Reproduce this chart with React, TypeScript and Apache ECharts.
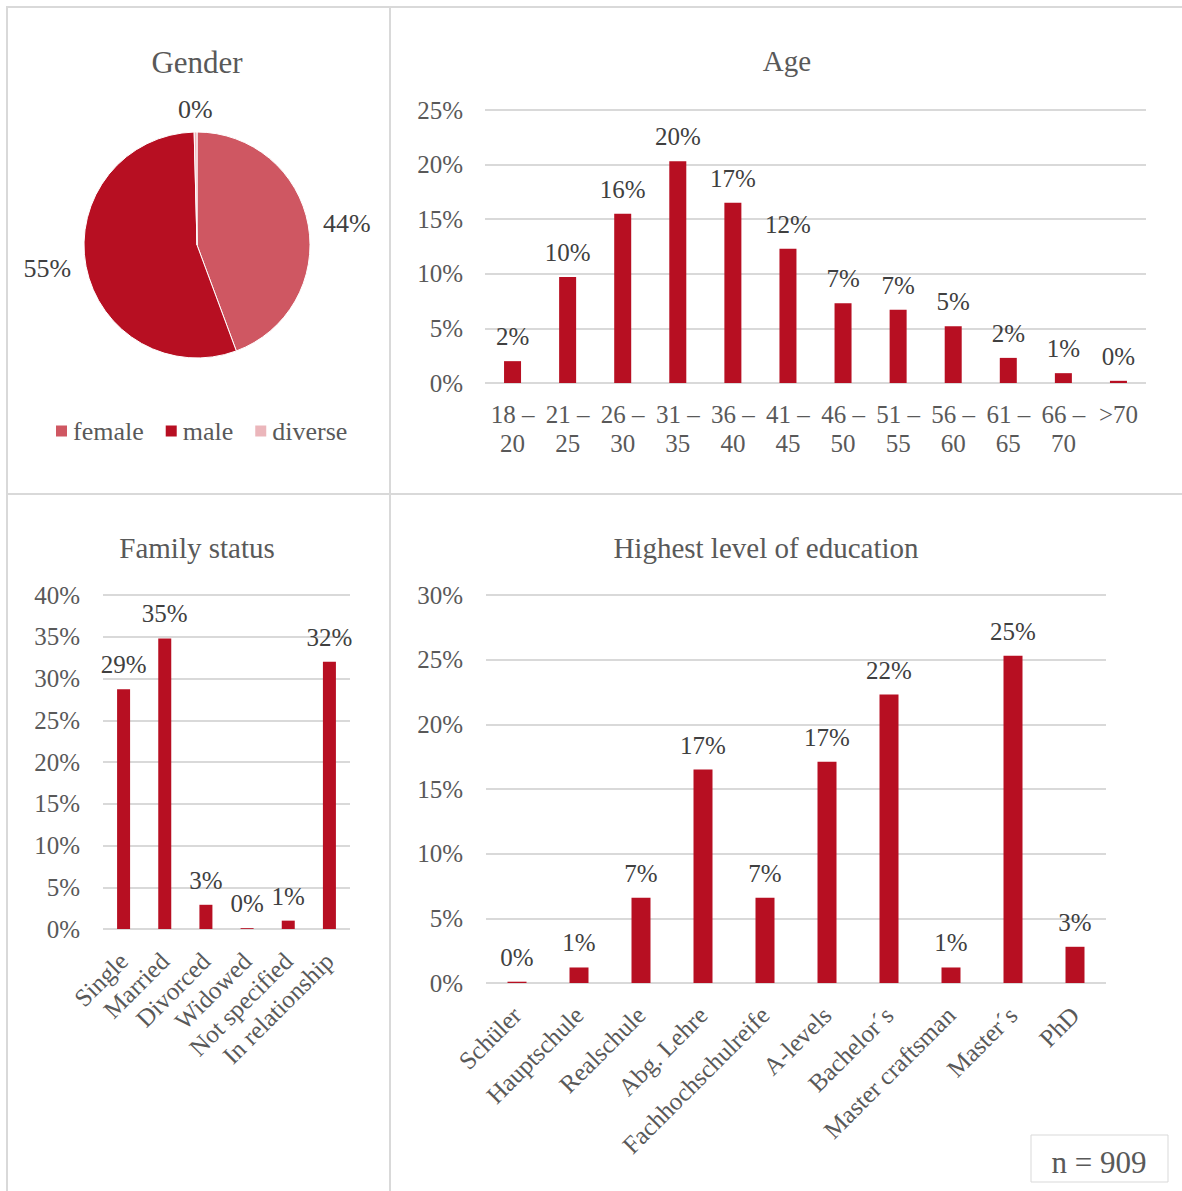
import React, { useEffect, useRef } from "react";
import * as echarts from "echarts";

const FONT = "'Liberation Serif', 'Times New Roman', serif";
const AXIS_COLOR = "#595959";
const LABEL_COLOR = "#404040";
const GRID_COLOR = "#D9D9D9";
const BAR_COLOR = "#B70F22";

const genderNames = ["female", "male", "diverse"];
const genderValues = [44.3, 55.2, 0.4];
const genderColors = ["#CF5762", "#B70F22", "#EBB6BB"];

const ageCategories = ["18 – 20", "21 – 25", "26 – 30", "31 – 35", "36 – 40", "41 – 45", "46 – 50", "51 – 55", "56 – 60", "61 – 65", "66 – 70", ">70"];
const ageValues = [2.0, 9.7, 15.5, 20.3, 16.5, 12.3, 7.3, 6.7, 5.2, 2.3, 0.9, 0.2];

const familyCategories = ["Single", "Married", "Divorced", "Widowed", "Not specified", "In relationship"];
const familyValues = [28.7, 34.8, 2.9, 0.1, 1.0, 32.0];

const eduCategories = ["Schüler", "Hauptschule", "Realschule", "Abg. Lehre", "Fachhochschulreife", "A-levels", "Bachelor´s", "Master craftsman", "Master´s", "PhD"];
const eduValues = [0.1, 1.2, 6.6, 16.5, 6.6, 17.1, 22.3, 1.2, 25.3, 2.8];

const sampleSize = 909;

const pct = (v: number) => Math.round(v) + "%";

export default function App() {
  const ref = useRef<HTMLDivElement>(null);
  useEffect(() => {
    if (!ref.current) return;
    const chart = echarts.init(ref.current, null, { renderer: "svg" });
    const axisLabel = { color: AXIS_COLOR, fontFamily: FONT, fontSize: 25 };
    const yAxisBase = (max: number, margin: number, gridIndex: number) => ({
      type: "value",
      gridIndex,
      min: 0,
      max,
      interval: 5,
      axisLine: { show: false },
      axisTick: { show: false },
      splitLine: { lineStyle: { color: GRID_COLOR, width: 2 } },
      axisLabel: { ...axisLabel, margin, formatter: "{value}%" },
    });
    const barLabel = {
      show: true,
      position: "top",
      distance: 12,
      color: LABEL_COLOR,
      fontFamily: FONT,
      fontSize: 25,
      formatter: (p: any) => pct(p.value),
    };
    const titleStyle = (size: number) => ({ color: AXIS_COLOR, fontFamily: FONT, fontSize: size, fontWeight: "normal" });

    chart.setOption({
      animation: false,
      backgroundColor: "#ffffff",
      title: [
        { text: "Gender", left: 192, top: 42, textAlign: "center", textStyle: titleStyle(31) },
        { text: "Age", left: 782, top: 41, textAlign: "center", textStyle: titleStyle(29) },
        { text: "Family status", left: 192, top: 528, textAlign: "center", textStyle: titleStyle(29) },
        { text: "Highest level of education", left: 761, top: 528, textAlign: "center", textStyle: titleStyle(29) },
      ],
      legend: {
        data: genderNames,
        left: 49,
        top: 413,
        icon: "rect",
        itemWidth: 13,
        itemHeight: 13,
        itemGap: 20,
        textStyle: { color: AXIS_COLOR, fontFamily: FONT, fontSize: 26 },
      },
      grid: [
        { left: 485, top: 110, width: 661, height: 273 },
        { left: 103, top: 595, width: 247, height: 334 },
        { left: 486, top: 595, width: 620, height: 388 },
      ],
      xAxis: [
        {
          type: "category",
          gridIndex: 0,
          data: ageCategories,
          axisLine: { show: false },
          axisTick: { show: false },
          axisLabel: {
            ...axisLabel,
            margin: 17,
            lineHeight: 29,
            interval: 0,
            formatter: (v: string) => v.replace(" – ", " –\n"),
          },
        },
        {
          type: "category",
          gridIndex: 1,
          data: familyCategories,
          axisLine: { show: false },
          axisTick: { show: false },
          axisLabel: { ...axisLabel, margin: 28, interval: 0, rotate: 45 },
        },
        {
          type: "category",
          gridIndex: 2,
          data: eduCategories,
          axisLine: { show: false },
          axisTick: { show: false },
          axisLabel: { ...axisLabel, margin: 28, interval: 0, rotate: 45 },
        },
      ],
      yAxis: [yAxisBase(25, 22, 0), yAxisBase(40, 23, 1), yAxisBase(30, 23, 2)],
      series: [
        {
          type: "pie",
          center: [197, 245],
          radius: 113,
          startAngle: 90,
          clockwise: true,
          data: genderNames.map((n, i) => ({ name: n, value: genderValues[i], itemStyle: { color: genderColors[i] } })),
          itemStyle: { borderColor: "#ffffff", borderWidth: 1 },
          label: {
            show: true,
            position: "outside",
            color: LABEL_COLOR,
            fontFamily: FONT,
            fontSize: 26,
            distanceToLabelLine: 5,
            formatter: (p: any) => pct(p.value),
          },
          labelLine: { show: false, length: 10, length2: 0 },
          labelLayout: (p: any) => (p.dataIndex === 2 ? { align: "center", dx: 5, dy: -13 } : {}),
        },
        {
          type: "bar",
          xAxisIndex: 0,
          yAxisIndex: 0,
          data: ageValues,
          barWidth: 17,
          itemStyle: { color: BAR_COLOR },
          label: barLabel,
        },
        {
          type: "bar",
          xAxisIndex: 1,
          yAxisIndex: 1,
          data: familyValues,
          barWidth: 13,
          itemStyle: { color: BAR_COLOR },
          label: barLabel,
        },
        {
          type: "bar",
          xAxisIndex: 2,
          yAxisIndex: 2,
          data: eduValues,
          barWidth: 19,
          itemStyle: { color: BAR_COLOR },
          label: barLabel,
        },
      ],
      graphic: [
        { type: "line", shape: { x1: 6, y1: 7, x2: 1182, y2: 7 }, style: { stroke: GRID_COLOR, lineWidth: 2 } },
        { type: "line", shape: { x1: 7, y1: 6, x2: 7, y2: 1191 }, style: { stroke: GRID_COLOR, lineWidth: 2 } },
        { type: "line", shape: { x1: 390, y1: 6, x2: 390, y2: 1191 }, style: { stroke: GRID_COLOR, lineWidth: 2 } },
        { type: "line", shape: { x1: 6, y1: 494, x2: 1182, y2: 494 }, style: { stroke: GRID_COLOR, lineWidth: 2 } },
        { type: "rect", shape: { x: 1031, y: 1135, width: 137, height: 47 }, style: { fill: "#ffffff", stroke: GRID_COLOR, lineWidth: 1 } },
        {
          type: "text",
          x: 1099,
          y: 1162,
          style: { text: "n = " + sampleSize, fill: AXIS_COLOR, font: "31px " + FONT, textAlign: "center", textVerticalAlign: "middle" },
        },
      ],
    });
    return () => chart.dispose();
  }, []);
  return <div ref={ref} style={{ position: "absolute", left: 0, top: 0, width: 1182, height: 1191 }} />;
}
